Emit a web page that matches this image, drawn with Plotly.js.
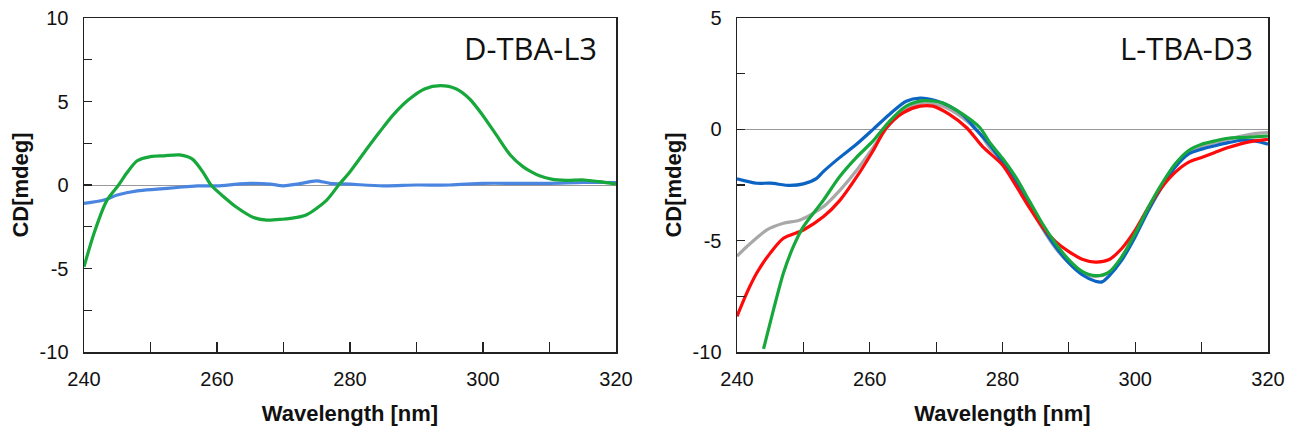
<!DOCTYPE html>
<html>
<head>
<meta charset="utf-8">
<script src="https://cdn.plot.ly/plotly-3.0.1.min.js"></script>
<style>html,body{margin:0;padding:0;background:#fff;}#chart{width:1292px;height:434px;}</style>
</head>
<body>
<div id="chart"></div>
<script>
// Left panel: D-TBA-L3
const leftGreenX = [240,241.5,243.4,245.2,246.4,248,250,252,254.4,256.3,258,259.1,261,263,265.5,267.5,269.8,271,273.4,276.5,278.3,280,282.6,284.5,286.5,288.8,291.2,293.6,296,298,300,302,304.1,306,307.2,308.5,310.3,312.5,315.2,317.5,320];
const leftGreenY = [-4.9,-2.9,-0.95,0,0.7,1.45,1.7,1.75,1.8,1.55,0.7,0,-0.7,-1.35,-1.95,-2.1,-2.05,-2.0,-1.8,-0.9,0,0.8,2.2,3.2,4.2,5.1,5.75,5.95,5.75,5.15,4.15,3.0,1.8,1.1,0.8,0.55,0.35,0.28,0.3,0.2,0.05];
const leftBlueX = [240,243,245,248,251,254,257,260,263,265,268,270,272,274,275,277,280,285,290,295,300,305,310,315,320];
const leftBlueY = [-1.1,-0.9,-0.6,-0.35,-0.25,-0.15,-0.05,-0.05,0.05,0.1,0.05,-0.05,0.05,0.2,0.25,0.1,0.05,-0.05,0.0,0.0,0.1,0.1,0.1,0.15,0.15];

// Right panel: L-TBA-D3
const rBlueX = [240,243,245,248,250,252,253,255.5,258,260.5,263,265.5,267.6,270,272,274,276,278,280,282,284,286,288,290,292,294,295,296,298,300,302,304,306,308,310,312,314,316,318,320];
const rBlueY = [-2.22,-2.42,-2.42,-2.52,-2.45,-2.2,-1.9,-1.26,-0.67,0,0.68,1.26,1.4,1.28,1.04,0.65,0.0,-0.67,-1.48,-2.37,-3.34,-4.38,-5.27,-6.0,-6.53,-6.82,-6.85,-6.6,-5.86,-4.82,-3.63,-2.6,-1.7,-1.11,-0.89,-0.74,-0.6,-0.49,-0.52,-0.67];
const rGreenX = [244.0,245.5,247,248.5,250,253,255.4,258,260.5,263,265.5,268,271,274,276.6,278.1,280,282,284,286,288,290,292,294,296,298,300,302,304,306,308,310,312,314,316,318,320];
const rGreenY = [-9.86,-8.1,-6.45,-5.26,-4.37,-3.19,-2.15,-1.26,-0.52,0.37,1.04,1.29,1.18,0.68,0.07,-0.6,-1.3,-2.15,-3.19,-4.23,-5.12,-5.86,-6.38,-6.57,-6.42,-5.71,-4.67,-3.49,-2.45,-1.56,-0.96,-0.67,-0.52,-0.4,-0.37,-0.34,-0.3];
const rRedX = [240,241.5,243,245,247,250,253,255.5,258,260.5,262.5,265,267.6,269.5,272,274.6,277,280,282,284,286,288,290,292,294,296,298,300,302,304,306,308,310,312,314,316,318,320];
const rRedY = [-8.4,-7.33,-6.44,-5.56,-4.89,-4.52,-3.93,-3.19,-2.15,-0.96,0.07,0.74,1.04,1.04,0.67,0.07,-0.78,-1.6,-2.52,-3.49,-4.38,-5.04,-5.49,-5.83,-5.96,-5.86,-5.34,-4.53,-3.49,-2.6,-1.93,-1.48,-1.26,-1.04,-0.82,-0.64,-0.52,-0.45];
const rGrayX = [240,241.5,244.5,247,249.5,253,255.5,258,260.5,263,265.5,268,271,274,276.6,278,280,282,284,286,288,290,292,294,296,298,300,302,304,306,308,310,312,314,316,318,320];
const rGrayY = [-5.7,-5.26,-4.52,-4.22,-4.07,-3.48,-2.74,-1.85,-0.82,0.22,0.89,1.18,1.04,0.52,-0.2,-0.8,-1.45,-2.37,-3.41,-4.45,-5.34,-6.0,-6.45,-6.6,-6.45,-5.79,-4.75,-3.56,-2.52,-1.68,-1.08,-0.79,-0.6,-0.45,-0.3,-0.19,-0.15];

const xTicks = [240,260,280,300,320];
const leftYTicks = [-10,-5,0,5,10];
const rightYTicks = [-10,-5,0,5];
const panelLabels = ['D-TBA-L3','L-TBA-D3'];

function line(x, y, color, xa, ya) {
  return {x: x, y: y, type: 'scatter', mode: 'lines', line: {color: color, width: 3.2, shape: 'spline', smoothing: 0.8}, xaxis: xa, yaxis: ya, hoverinfo: 'skip', showlegend: false};
}

const traces = [
  line(leftBlueX, leftBlueY, '#4a86e0', 'x', 'y'),
  line(leftGreenX, leftGreenY, '#17a83c', 'x', 'y'),
  line(rGrayX, rGrayY, '#a8a8a8', 'x2', 'y2'),
  line(rBlueX, rBlueY, '#0b63c4', 'x2', 'y2'),
  line(rRedX, rRedY, '#ff0a0a', 'x2', 'y2'),
  line(rGreenX, rGreenY, '#17a83c', 'x2', 'y2')
];

const tickFont = {family: 'Liberation Sans, Arial, sans-serif', size: 20, color: '#111'};
const titleFont = {family: 'Liberation Sans, Arial, sans-serif', size: 22, color: '#111', weight: 'bold'};

function xAxis(domain, anchor) {
  return {
    domain: domain, anchor: anchor, range: [240, 320], tickvals: xTicks, ticktext: xTicks.map(String),
    ticks: 'inside', ticklen: 10, tickcolor: '#222', tickwidth: 1.2,
    minor: {tickvals: [250,270,290,310], ticks: 'inside', ticklen: 10, tickcolor: '#222', tickwidth: 1.2},
    showline: true, mirror: true, linecolor: '#222', linewidth: 1.5, showgrid: false, zeroline: false,
    tickfont: tickFont, ticklabelstandoff: 8,
    title: {text: 'Wavelength [nm]', font: titleFont, standoff: 17}
  };
}
function yAxis(domain, anchor, range, tvals) {
  const minors = [];
  for (let v = range[0] + 2.5; v < range[1]; v += 5) minors.push(v);
  return {
    domain: domain, anchor: anchor, range: range, tickvals: tvals, ticktext: tvals.map(String),
    ticks: 'inside', ticklen: 8, tickcolor: '#222', tickwidth: 1.2,
    minor: {tickvals: minors, ticks: 'inside', ticklen: 8, tickcolor: '#222', tickwidth: 1.2},
    showline: true, mirror: true, linecolor: '#222', linewidth: 1.5, showgrid: false,
    zeroline: true, zerolinecolor: '#999', zerolinewidth: 1,
    tickfont: tickFont, ticklabelstandoff: 10,
    title: {text: 'CD[mdeg]', font: titleFont, standoff: 5}
  };
}

const yDom = [1 - 352/434, 1 - 18/434];
const layout = {
  width: 1292, height: 434,
  margin: {l: 0, r: 0, t: 0, b: 0},
  paper_bgcolor: '#fff', plot_bgcolor: '#fff',
  xaxis: xAxis([84/1292, 616/1292], 'y'),
  yaxis: yAxis(yDom, 'x', [-10, 10], leftYTicks),
  xaxis2: xAxis([737/1292, 1268/1292], 'y2'),
  yaxis2: yAxis(yDom, 'x2', [-10, 5], rightYTicks),
  annotations: [
    {text: panelLabels[0], xref: 'paper', yref: 'paper', x: 530/1292, y: 1 - 48/434, xanchor: 'center', yanchor: 'middle', showarrow: false, font: {family: 'Open Sans, sans-serif', size: 31, color: '#111'}},
    {text: panelLabels[1], xref: 'paper', yref: 'paper', x: 1186/1292, y: 1 - 48/434, xanchor: 'center', yanchor: 'middle', showarrow: false, font: {family: 'Open Sans, sans-serif', size: 31, color: '#111'}}
  ]
};

Plotly.newPlot('chart', traces, layout, {staticPlot: true, displayModeBar: false});
</script>
</body>
</html>
